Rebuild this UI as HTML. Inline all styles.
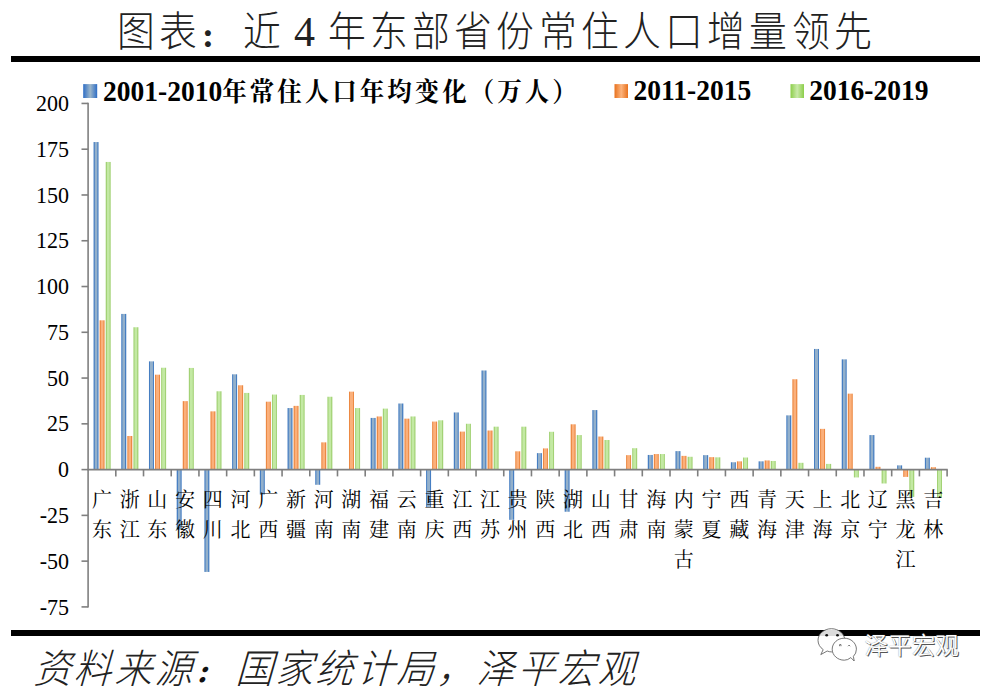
<!DOCTYPE html>
<html><head><meta charset="utf-8"><style>
html,body{margin:0;padding:0;background:#fff;}
body{width:992px;height:690px;position:relative;overflow:hidden;}
.abs{position:absolute;}
#title{position:absolute;left:114.6px;top:5.5px;font-family:"Liberation Serif","Noto Sans CJK SC",sans-serif;font-weight:300;font-size:42px;line-height:52px;color:#222;white-space:nowrap;display:flex;}
.tc{display:block;width:42.2px;text-align:center;flex:none;}
.tg{display:inline-block;transform:scale(0.9,0.965);transform-origin:50% 75%;}
.tg4{display:inline-block;}
.tcol{display:inline-block;position:relative;left:0.9px;top:2.5px;font-family:"Noto Serif CJK SC",serif;font-weight:900;font-size:28.5px;}
.rule{position:absolute;background:#000;}
.leg{position:absolute;top:75px;transform:scaleY(1.09);transform-origin:0 16px;font-family:"Liberation Serif",serif;font-weight:700;font-size:27.5px;line-height:30px;color:#000;white-space:nowrap;}
.legc{font-family:"Noto Serif CJK SC",serif;font-weight:700;font-size:24.5px;letter-spacing:3px;}
.sq{position:absolute;top:84px;width:14px;height:14px;}
.yl{position:absolute;left:20px;width:49px;text-align:right;font-family:"Liberation Serif",serif;font-size:22px;line-height:24px;color:#000;transform:scaleY(1.09);transform-origin:50% 50%;}
.cl{position:absolute;top:485px;width:30px;text-align:center;font-family:"Liberation Serif","Noto Serif CJK SC",serif;font-size:20px;line-height:30px;color:#000;}
#foot{position:absolute;left:33px;top:644.7px;font-family:"Liberation Serif","Noto Sans CJK SC",sans-serif;font-weight:300;font-style:normal;font-size:40px;line-height:50px;color:#222;white-space:nowrap;display:flex;}
.fc{display:block;width:40.3px;flex:none;text-align:center;}
.fcol{display:inline-block;position:relative;left:2.8px;top:0.4px;font-family:"Noto Serif CJK SC",serif;font-weight:900;font-size:27px;color:#111;transform:skewX(-16deg);}
.fg{display:inline-block;transform:skewX(-16deg) scaleX(0.94);transform-origin:50% 70%;}
#wm{position:absolute;left:864.5px;top:630px;font-weight:350;font-family:"Liberation Sans","Noto Sans CJK SC",sans-serif;font-size:23.6px;line-height:32px;color:#fff;white-space:nowrap;text-shadow:1px 1px 0 #555, 0 0 1px #777;}
</style></head><body>
<div id="title"><span class="tc"><span class="tg">图</span></span><span class="tc"><span class="tg">表</span></span><span class="tc" style="text-align:left"><span class="tcol">：</span></span><span class="tc"><span class="tg">近</span></span><span class="tc"> <span class="tg4">4</span> </span><span class="tc"><span class="tg">年</span></span><span class="tc"><span class="tg">东</span></span><span class="tc"><span class="tg">部</span></span><span class="tc"><span class="tg">省</span></span><span class="tc"><span class="tg">份</span></span><span class="tc"><span class="tg">常</span></span><span class="tc"><span class="tg">住</span></span><span class="tc"><span class="tg">人</span></span><span class="tc"><span class="tg">口</span></span><span class="tc"><span class="tg">增</span></span><span class="tc"><span class="tg">量</span></span><span class="tc"><span class="tg">领</span></span><span class="tc"><span class="tg">先</span></span></div>
<div class="rule" style="left:11px;top:56px;width:969px;height:6px;"></div>

<svg class="abs" style="left:0;top:0" width="992" height="690" viewBox="0 0 992 690">
<defs>
<linearGradient id="gb" x1="0" y1="0" x2="1" y2="0"><stop offset="0" stop-color="#467ec2"/><stop offset="0.16" stop-color="#467ec2"/><stop offset="0.3" stop-color="#93b0cb"/><stop offset="0.7" stop-color="#93b0cb"/><stop offset="0.84" stop-color="#467ec2"/><stop offset="1" stop-color="#467ec2"/></linearGradient>
<linearGradient id="go" x1="0" y1="0" x2="1" y2="0"><stop offset="0" stop-color="#ec8943"/><stop offset="0.16" stop-color="#ec8943"/><stop offset="0.3" stop-color="#fbb07b"/><stop offset="0.7" stop-color="#fbb07b"/><stop offset="0.84" stop-color="#ec8943"/><stop offset="1" stop-color="#ec8943"/></linearGradient>
<linearGradient id="gg" x1="0" y1="0" x2="1" y2="0"><stop offset="0" stop-color="#a3d276"/><stop offset="0.16" stop-color="#a3d276"/><stop offset="0.3" stop-color="#c3e9a3"/><stop offset="0.7" stop-color="#c3e9a3"/><stop offset="0.84" stop-color="#a3d276"/><stop offset="1" stop-color="#a3d276"/></linearGradient>
<linearGradient id="sb" x1="0" y1="0" x2="1" y2="0"><stop offset="0" stop-color="#2e6ec6"/><stop offset="0.5" stop-color="#9cb6ca"/><stop offset="1" stop-color="#2e6ec6"/></linearGradient>
<linearGradient id="so" x1="0" y1="0" x2="1" y2="0"><stop offset="0" stop-color="#e8721e"/><stop offset="0.5" stop-color="#fcb37c"/><stop offset="1" stop-color="#e8721e"/></linearGradient>
<linearGradient id="sg" x1="0" y1="0" x2="1" y2="0"><stop offset="0" stop-color="#8cce4a"/><stop offset="0.5" stop-color="#c9eaa9"/><stop offset="1" stop-color="#8cce4a"/></linearGradient>
</defs>
<rect x="83.2" y="84.1" width="14" height="13.9" fill="url(#sb)"/>
<rect x="614.5" y="84.1" width="13.5" height="13.9" fill="url(#so)"/>
<rect x="790.5" y="84.1" width="13.5" height="13.9" fill="url(#sg)"/>
<rect x="93.55" y="142.05" width="5.0" height="327.55" fill="url(#gb)"/><rect x="99.60" y="320.31" width="5.0" height="149.29" fill="url(#go)"/><rect x="105.70" y="161.94" width="5.0" height="307.66" fill="url(#gg)"/><rect x="121.26" y="313.92" width="5.0" height="155.68" fill="url(#gb)"/><rect x="127.31" y="435.98" width="5.0" height="33.62" fill="url(#go)"/><rect x="133.41" y="327.24" width="5.0" height="142.36" fill="url(#gg)"/><rect x="148.97" y="361.36" width="5.0" height="108.24" fill="url(#gb)"/><rect x="155.02" y="374.68" width="5.0" height="94.92" fill="url(#go)"/><rect x="161.12" y="367.74" width="5.0" height="101.86" fill="url(#gg)"/><rect x="176.68" y="469.60" width="5.0" height="59.94" fill="url(#gb)"/><rect x="182.73" y="401.13" width="5.0" height="68.47" fill="url(#go)"/><rect x="188.83" y="367.93" width="5.0" height="101.67" fill="url(#gg)"/><rect x="204.39" y="469.60" width="5.0" height="102.32" fill="url(#gb)"/><rect x="210.44" y="411.35" width="5.0" height="58.25" fill="url(#go)"/><rect x="216.54" y="391.28" width="5.0" height="78.32" fill="url(#gg)"/><rect x="232.10" y="374.31" width="5.0" height="95.29" fill="url(#gb)"/><rect x="238.15" y="385.26" width="5.0" height="84.34" fill="url(#go)"/><rect x="244.25" y="392.92" width="5.0" height="76.68" fill="url(#gg)"/><rect x="259.81" y="469.60" width="5.0" height="24.90" fill="url(#gb)"/><rect x="265.86" y="401.68" width="5.0" height="67.92" fill="url(#go)"/><rect x="271.96" y="394.56" width="5.0" height="75.04" fill="url(#gg)"/><rect x="287.52" y="408.06" width="5.0" height="61.54" fill="url(#gb)"/><rect x="293.57" y="405.87" width="5.0" height="63.73" fill="url(#go)"/><rect x="299.67" y="394.93" width="5.0" height="74.67" fill="url(#gg)"/><rect x="315.23" y="469.60" width="5.0" height="15.18" fill="url(#gb)"/><rect x="321.28" y="442.36" width="5.0" height="27.24" fill="url(#go)"/><rect x="327.38" y="396.75" width="5.0" height="72.85" fill="url(#gg)"/><rect x="342.94" y="469.00" width="5.0" height="0.60" fill="url(#gb)"/><rect x="348.99" y="391.64" width="5.0" height="77.96" fill="url(#go)"/><rect x="355.09" y="408.06" width="5.0" height="61.54" fill="url(#gg)"/><rect x="370.65" y="417.92" width="5.0" height="51.68" fill="url(#gb)"/><rect x="376.70" y="416.46" width="5.0" height="53.14" fill="url(#go)"/><rect x="382.80" y="408.61" width="5.0" height="60.99" fill="url(#gg)"/><rect x="398.36" y="403.50" width="5.0" height="66.10" fill="url(#gb)"/><rect x="404.41" y="418.65" width="5.0" height="50.95" fill="url(#go)"/><rect x="410.51" y="416.46" width="5.0" height="53.14" fill="url(#gg)"/><rect x="426.07" y="469.60" width="5.0" height="37.37" fill="url(#gb)"/><rect x="432.12" y="421.57" width="5.0" height="48.03" fill="url(#go)"/><rect x="438.22" y="420.29" width="5.0" height="49.31" fill="url(#gg)"/><rect x="453.78" y="412.44" width="5.0" height="57.16" fill="url(#gb)"/><rect x="459.83" y="431.60" width="5.0" height="38.00" fill="url(#go)"/><rect x="465.93" y="423.76" width="5.0" height="45.84" fill="url(#gg)"/><rect x="481.49" y="370.48" width="5.0" height="99.12" fill="url(#gb)"/><rect x="487.54" y="430.51" width="5.0" height="39.09" fill="url(#go)"/><rect x="493.64" y="426.67" width="5.0" height="42.93" fill="url(#gg)"/><rect x="509.20" y="469.60" width="5.0" height="50.22" fill="url(#gb)"/><rect x="515.25" y="451.31" width="5.0" height="18.30" fill="url(#go)"/><rect x="521.35" y="426.67" width="5.0" height="42.93" fill="url(#gg)"/><rect x="536.91" y="453.13" width="5.0" height="16.47" fill="url(#gb)"/><rect x="542.96" y="448.39" width="5.0" height="21.21" fill="url(#go)"/><rect x="549.06" y="431.78" width="5.0" height="37.82" fill="url(#gg)"/><rect x="564.62" y="469.60" width="5.0" height="42.14" fill="url(#gb)"/><rect x="570.67" y="424.30" width="5.0" height="45.30" fill="url(#go)"/><rect x="576.77" y="435.07" width="5.0" height="34.53" fill="url(#gg)"/><rect x="592.33" y="410.07" width="5.0" height="59.53" fill="url(#gb)"/><rect x="598.38" y="436.53" width="5.0" height="33.07" fill="url(#go)"/><rect x="604.48" y="439.99" width="5.0" height="29.61" fill="url(#gg)"/><rect x="626.09" y="455.14" width="5.0" height="14.46" fill="url(#go)"/><rect x="632.19" y="448.20" width="5.0" height="21.40" fill="url(#gg)"/><rect x="647.75" y="454.95" width="5.0" height="14.65" fill="url(#gb)"/><rect x="653.80" y="454.04" width="5.0" height="15.56" fill="url(#go)"/><rect x="659.90" y="454.04" width="5.0" height="15.56" fill="url(#gg)"/><rect x="675.46" y="451.12" width="5.0" height="18.48" fill="url(#gb)"/><rect x="681.51" y="455.87" width="5.0" height="13.73" fill="url(#go)"/><rect x="687.61" y="456.78" width="5.0" height="12.82" fill="url(#gg)"/><rect x="703.17" y="455.14" width="5.0" height="14.46" fill="url(#gb)"/><rect x="709.22" y="457.14" width="5.0" height="12.46" fill="url(#go)"/><rect x="715.32" y="457.33" width="5.0" height="12.27" fill="url(#gg)"/><rect x="730.88" y="462.25" width="5.0" height="7.35" fill="url(#gb)"/><rect x="736.93" y="461.34" width="5.0" height="8.26" fill="url(#go)"/><rect x="743.03" y="457.51" width="5.0" height="12.09" fill="url(#gg)"/><rect x="758.59" y="461.34" width="5.0" height="8.26" fill="url(#gb)"/><rect x="764.64" y="460.43" width="5.0" height="9.17" fill="url(#go)"/><rect x="770.74" y="460.97" width="5.0" height="8.63" fill="url(#gg)"/><rect x="786.30" y="415.36" width="5.0" height="54.24" fill="url(#gb)"/><rect x="792.35" y="379.24" width="5.0" height="90.36" fill="url(#go)"/><rect x="798.45" y="462.80" width="5.0" height="6.80" fill="url(#gg)"/><rect x="814.01" y="348.95" width="5.0" height="120.65" fill="url(#gb)"/><rect x="820.06" y="428.86" width="5.0" height="40.74" fill="url(#go)"/><rect x="826.16" y="463.89" width="5.0" height="5.71" fill="url(#gg)"/><rect x="841.72" y="359.35" width="5.0" height="110.25" fill="url(#gb)"/><rect x="847.77" y="393.65" width="5.0" height="75.95" fill="url(#go)"/><rect x="853.87" y="469.60" width="5.0" height="7.84" fill="url(#gg)"/><rect x="869.43" y="435.07" width="5.0" height="34.53" fill="url(#gb)"/><rect x="875.48" y="466.81" width="5.0" height="2.79" fill="url(#go)"/><rect x="881.58" y="469.60" width="5.0" height="13.89" fill="url(#gg)"/><rect x="897.14" y="465.35" width="5.0" height="4.25" fill="url(#gb)"/><rect x="903.19" y="469.60" width="5.0" height="7.29" fill="url(#go)"/><rect x="909.29" y="469.60" width="5.0" height="27.28" fill="url(#gg)"/><rect x="924.85" y="457.69" width="5.0" height="11.91" fill="url(#gb)"/><rect x="930.90" y="467.18" width="5.0" height="2.42" fill="url(#go)"/><rect x="937.00" y="469.60" width="5.0" height="28.02" fill="url(#gg)"/>
<g stroke="#7f7f7f" stroke-width="1.6" fill="none"><line x1="88.10" y1="102.74" x2="88.10" y2="607.61" /><line x1="81.5" y1="103.44" x2="88.10" y2="103.44" /><line x1="81.5" y1="149.21" x2="88.10" y2="149.21" /><line x1="81.5" y1="194.98" x2="88.10" y2="194.98" /><line x1="81.5" y1="240.75" x2="88.10" y2="240.75" /><line x1="81.5" y1="286.52" x2="88.10" y2="286.52" /><line x1="81.5" y1="332.29" x2="88.10" y2="332.29" /><line x1="81.5" y1="378.06" x2="88.10" y2="378.06" /><line x1="81.5" y1="423.83" x2="88.10" y2="423.83" /><line x1="81.5" y1="469.60" x2="88.10" y2="469.60" /><line x1="81.5" y1="515.37" x2="88.10" y2="515.37" /><line x1="81.5" y1="561.14" x2="88.10" y2="561.14" /><line x1="81.5" y1="606.91" x2="88.10" y2="606.91" /><line x1="87.50" y1="469.6" x2="947.71" y2="469.6" /><line x1="115.81" y1="469.6" x2="115.81" y2="476.4" /><line x1="143.52" y1="469.6" x2="143.52" y2="476.4" /><line x1="171.23" y1="469.6" x2="171.23" y2="476.4" /><line x1="198.94" y1="469.6" x2="198.94" y2="476.4" /><line x1="226.65" y1="469.6" x2="226.65" y2="476.4" /><line x1="254.36" y1="469.6" x2="254.36" y2="476.4" /><line x1="282.07" y1="469.6" x2="282.07" y2="476.4" /><line x1="309.78" y1="469.6" x2="309.78" y2="476.4" /><line x1="337.49" y1="469.6" x2="337.49" y2="476.4" /><line x1="365.20" y1="469.6" x2="365.20" y2="476.4" /><line x1="392.91" y1="469.6" x2="392.91" y2="476.4" /><line x1="420.62" y1="469.6" x2="420.62" y2="476.4" /><line x1="448.33" y1="469.6" x2="448.33" y2="476.4" /><line x1="476.04" y1="469.6" x2="476.04" y2="476.4" /><line x1="503.75" y1="469.6" x2="503.75" y2="476.4" /><line x1="531.46" y1="469.6" x2="531.46" y2="476.4" /><line x1="559.17" y1="469.6" x2="559.17" y2="476.4" /><line x1="586.88" y1="469.6" x2="586.88" y2="476.4" /><line x1="614.59" y1="469.6" x2="614.59" y2="476.4" /><line x1="642.30" y1="469.6" x2="642.30" y2="476.4" /><line x1="670.01" y1="469.6" x2="670.01" y2="476.4" /><line x1="697.72" y1="469.6" x2="697.72" y2="476.4" /><line x1="725.43" y1="469.6" x2="725.43" y2="476.4" /><line x1="753.14" y1="469.6" x2="753.14" y2="476.4" /><line x1="780.85" y1="469.6" x2="780.85" y2="476.4" /><line x1="808.56" y1="469.6" x2="808.56" y2="476.4" /><line x1="836.27" y1="469.6" x2="836.27" y2="476.4" /><line x1="863.98" y1="469.6" x2="863.98" y2="476.4" /><line x1="891.69" y1="469.6" x2="891.69" y2="476.4" /><line x1="919.40" y1="469.6" x2="919.40" y2="476.4" /><line x1="947.11" y1="469.6" x2="947.11" y2="476.4" /></g>
</svg>

<div class="leg" style="left:103px">2001-2010<span class="legc">年常住人口年均变化（万人）</span></div>
<div class="leg" style="left:633.5px">2011-2015</div>
<div class="leg" style="left:809.3px">2016-2019</div>

<div class="yl" style="top:91.0px">200</div><div class="yl" style="top:136.8px">175</div><div class="yl" style="top:182.6px">150</div><div class="yl" style="top:228.4px">125</div><div class="yl" style="top:274.1px">100</div><div class="yl" style="top:319.9px">75</div><div class="yl" style="top:365.7px">50</div><div class="yl" style="top:411.4px">25</div><div class="yl" style="top:457.2px">0</div><div class="yl" style="top:503.0px">-25</div><div class="yl" style="top:548.7px">-50</div><div class="yl" style="top:594.5px">-75</div>
<div class="cl" style="left:86.95px">广<br>东</div><div class="cl" style="left:114.66px">浙<br>江</div><div class="cl" style="left:142.37px">山<br>东</div><div class="cl" style="left:170.08px">安<br>徽</div><div class="cl" style="left:197.79px">四<br>川</div><div class="cl" style="left:225.50px">河<br>北</div><div class="cl" style="left:253.21px">广<br>西</div><div class="cl" style="left:280.93px">新<br>疆</div><div class="cl" style="left:308.63px">河<br>南</div><div class="cl" style="left:336.35px">湖<br>南</div><div class="cl" style="left:364.06px">福<br>建</div><div class="cl" style="left:391.76px">云<br>南</div><div class="cl" style="left:419.48px">重<br>庆</div><div class="cl" style="left:447.19px">江<br>西</div><div class="cl" style="left:474.89px">江<br>苏</div><div class="cl" style="left:502.61px">贵<br>州</div><div class="cl" style="left:530.32px">陕<br>西</div><div class="cl" style="left:558.02px">湖<br>北</div><div class="cl" style="left:585.74px">山<br>西</div><div class="cl" style="left:613.45px">甘<br>肃</div><div class="cl" style="left:641.16px">海<br>南</div><div class="cl" style="left:668.87px">内<br>蒙<br>古</div><div class="cl" style="left:696.58px">宁<br>夏</div><div class="cl" style="left:724.29px">西<br>藏</div><div class="cl" style="left:752.00px">青<br>海</div><div class="cl" style="left:779.71px">天<br>津</div><div class="cl" style="left:807.42px">上<br>海</div><div class="cl" style="left:835.13px">北<br>京</div><div class="cl" style="left:862.84px">辽<br>宁</div><div class="cl" style="left:890.55px">黑<br>龙<br>江</div><div class="cl" style="left:918.26px">吉<br>林</div>

<div class="rule" style="left:10.5px;top:630px;width:969.5px;height:6px;"></div>
<div id="foot"><span class="fc"><span class="fg">资</span></span><span class="fc"><span class="fg">料</span></span><span class="fc"><span class="fg">来</span></span><span class="fc"><span class="fg">源</span></span><span class="fc" style="text-align:left"><span class="fcol">：</span></span><span class="fc"><span class="fg">国</span></span><span class="fc"><span class="fg">家</span></span><span class="fc"><span class="fg">统</span></span><span class="fc"><span class="fg">计</span></span><span class="fc"><span class="fg">局</span></span><span class="fc"><span class="fg">，</span></span><span class="fc"><span class="fg">泽</span></span><span class="fc"><span class="fg">平</span></span><span class="fc"><span class="fg">宏</span></span><span class="fc"><span class="fg">观</span></span></div>

<svg class="abs" style="left:0;top:0" width="992" height="690" viewBox="0 0 992 690">
<path d="M823.2 649.6 L820.8 654.6 L827.2 651.0 Q829.3 651.9 831.4 651.9 C838.8 651.9 844.8 646.7 844.8 640.3 C844.8 633.9 838.8 628.7 831.4 628.7 C824.0 628.7 818.0 633.9 818.0 640.3 C818.0 644.1 820.0 647.4 823.2 649.6 Z" fill="#fff" fill-opacity="0.86" stroke="#555" stroke-width="0.8"/>
<ellipse cx="826.7" cy="635.3" rx="1.4" ry="1.3" fill="#111"/><ellipse cx="837.5" cy="635.3" rx="1.4" ry="1.3" fill="#111"/>
<path d="M850.8 657.6 L854.2 661.0 L853.4 656.4 Q856.4 653.4 856.4 649.2 C856.4 643.1 851.0 638.2 844.3 638.2 C837.6 638.2 832.2 643.1 832.2 649.2 C832.2 655.3 837.6 660.2 844.3 660.2 Q847.8 660.2 850.8 657.6 Z" fill="#fff" stroke="#555" stroke-width="0.8"/>
<path d="M839.6 646.2 V644.6 H841.0 V646.2 M848.0 646.2 Q849.0 644.0 850.2 646.2" stroke="#555" stroke-width="0.8" fill="none"/>
</svg>
<div id="wm">泽平宏观</div>
</body></html>
